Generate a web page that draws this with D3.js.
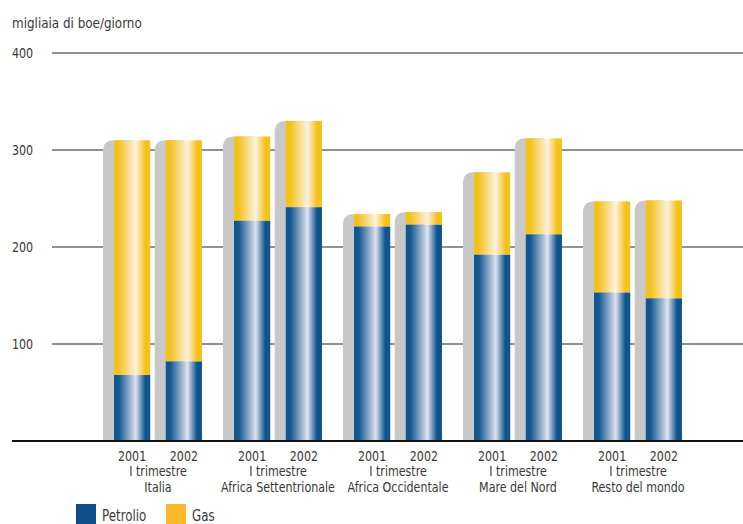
<!DOCTYPE html>
<html>
<head>
<meta charset="utf-8">
<script src="https://cdn.jsdelivr.net/npm/d3@7"></script>
<style>
  body { margin: 0; background: #fff; }
  svg text { font-family: "DejaVu Sans", sans-serif; font-stretch: condensed; fill: #383838; font-size: 14px; }
</style>
</head>
<body>
<div id="chart"></div>
<script>
// regions and years
const regions = ['Italia', 'Africa Settentrionale', 'Africa Occidentale', 'Mare del Nord', 'Resto del mondo'];
const years = ['2001', '2002'];
// thousand boe/day, first quarter
const petrolio = [[68, 82], [227, 241], [221, 223], [192, 213], [153, 147]];
const gas = [[242, 228], [87, 89], [13, 13], [85, 99], [94, 101]];
const yTicks = [100, 200, 300, 400];

const width = 743, height = 524;
const sx = 0.88; // narrow the type a bit
const svg = d3.select('#chart').append('svg')
  .attr('width', width).attr('height', height);

const defs = svg.append('defs');
function grad(id, dark, light) {
  const g = defs.append('linearGradient').attr('id', id)
    .attr('x1', '0%').attr('x2', '100%').attr('y1', '0%').attr('y2', '0%');
  [[0, dark], [0.12, dark], [0.6, light], [0.86, dark], [1, dark]].forEach(([o, c]) =>
    g.append('stop').attr('offset', o).attr('stop-color', c));
}
grad('gPet', '#0f558f', '#dfe2ee');
grad('gGas', '#f5c21c', '#fcf2e2');

const y = d3.scaleLinear().domain([0, 400]).range([441, 53]);
const x0 = d3.scaleBand().domain(regions).range([98, 698]).paddingInner(0).paddingOuter(0);
const x1 = d3.scaleBand().domain(years).range([16, 104]).paddingInner(0.3).paddingOuter(0);

// grid
svg.append('g').selectAll('line').data(yTicks).enter().append('line')
  .attr('x1', 52).attr('x2', width)
  .attr('y1', d => y(d)).attr('y2', d => y(d))
  .attr('stroke', '#222').attr('stroke-width', 1.2);
svg.append('g').selectAll('text').data(yTicks).enter().append('text')
  .attr('transform', d => `translate(12,${y(d) + 5}) scale(${sx},1)`)
  .text(d => d);

svg.append('text').attr('transform', 'translate(12,28) scale(0.95,1)')
  .text('migliaia di boe/giorno');

// bars
const rows = [];
regions.forEach((r, i) => years.forEach((yr, j) => {
  rows.push({ r, yr, pet: petrolio[i][j], gas: gas[i][j] });
}));

const bw = x1.bandwidth();
const bar = svg.append('g').selectAll('g').data(rows).enter().append('g')
  .attr('transform', d => `translate(${x0(d.r) + x1(d.yr)},0)`);

// shadow
bar.append('path')
  .attr('fill', '#c8c8c8')
  .attr('d', d => {
    const top = y(d.pet + d.gas), base = y(0), rad = 11;
    return `M-11,${base} L-11,${top + rad} Q-11,${top} 0,${top} L${bw / 2},${top} L${bw / 2},${base} Z`;
  });
bar.append('rect')
  .attr('x', 0).attr('width', bw)
  .attr('y', d => y(d.pet + d.gas))
  .attr('height', d => y(d.pet) - y(d.pet + d.gas))
  .attr('fill', 'url(#gGas)');
bar.append('rect')
  .attr('x', 0).attr('width', bw)
  .attr('y', d => y(d.pet))
  .attr('height', d => y(0) - y(d.pet))
  .attr('fill', 'url(#gPet)');

// baseline
svg.append('line').attr('x1', 12).attr('x2', width)
  .attr('y1', y(0)).attr('y2', y(0))
  .attr('stroke', '#111').attr('stroke-width', 2);

// x labels
bar.append('text')
  .attr('transform', `translate(${bw / 2},461) scale(${sx},1)`)
  .attr('text-anchor', 'middle')
  .text(d => d.yr);
const lab = svg.append('g').selectAll('g').data(regions).enter().append('g')
  .attr('transform', d => `translate(${x0(d) + x0.bandwidth() / 2},0)`);
lab.append('text').attr('transform', `translate(0,476) scale(${sx},1)`)
  .attr('text-anchor', 'middle').text('I trimestre');
lab.append('text').attr('transform', `translate(0,492) scale(${sx},1)`)
  .attr('text-anchor', 'middle').text(d => d);

// legend
const legend = [['Petrolio', '#0d4f8b', 76], ['Gas', '#fbb829', 166]];
const lg = svg.append('g').selectAll('g').data(legend).enter().append('g')
  .attr('transform', d => `translate(${d[2]},504)`);
lg.append('rect').attr('width', 20).attr('height', 20).attr('fill', d => d[1]);
lg.append('text').attr('transform', `translate(26,17) scale(${sx},1)`)
  .style('font-size', '15px').text(d => d[0]);
</script>
</body>
</html>
